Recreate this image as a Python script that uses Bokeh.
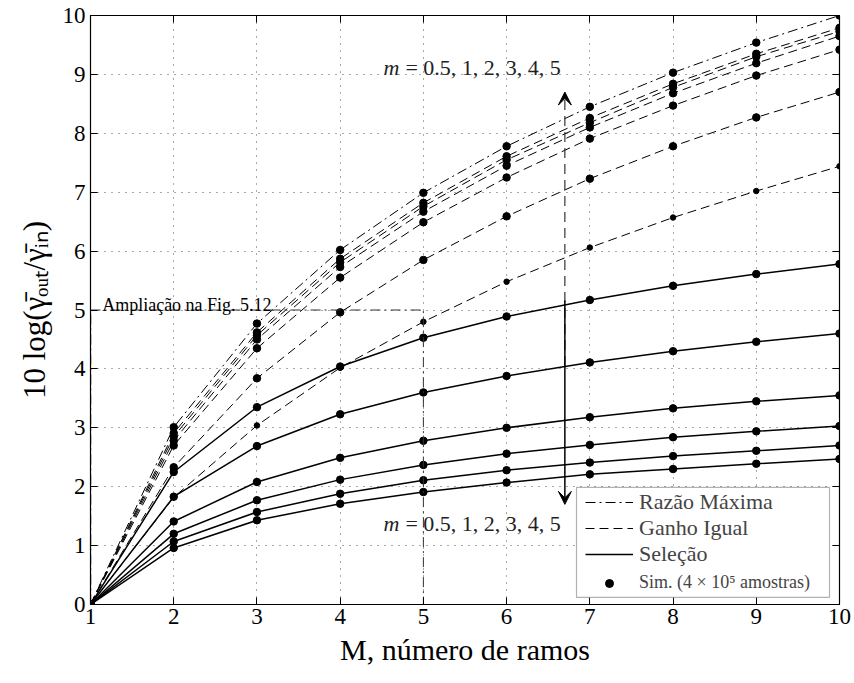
from bokeh.plotting import figure
from bokeh.models import (Range1d, LinearAxis, FixedTicker, Legend, LegendItem,
                          BoxAnnotation, Arrow, VeeHead, Label)
from bokeh.embed import file_html
from bokeh.resources import INLINE

# ---------------- data ----------------
M = [1, 2, 3, 4, 5, 6, 7, 8, 9, 10]
m_values = ["0.5", "1", "2", "3", "4", "5"]

# Maximal ratio combining (same for every m)
mrc = [0.0, 3.01, 4.77, 6.02, 6.99, 7.78, 8.45, 9.03, 9.54, 10.0]

# Equal gain combining, one list per m
egc_m05 = [0.0, 1.82, 3.04, 4.02, 4.80, 5.48, 6.06, 6.57, 7.02, 7.44]
egc_m1 = [0.0, 2.33, 3.84, 4.96, 5.85, 6.59, 7.23, 7.78, 8.27, 8.70]
egc_m2 = [0.0, 2.70, 4.35, 5.55, 6.49, 7.25, 7.91, 8.47, 8.98, 9.42]
egc_m3 = [0.0, 2.78, 4.50, 5.73, 6.67, 7.45, 8.10, 8.68, 9.19, 9.65]
egc_m4 = [0.0, 2.85, 4.57, 5.81, 6.76, 7.55, 8.18, 8.78, 9.30, 9.73]
egc_m5 = [0.0, 2.91, 4.62, 5.87, 6.82, 7.61, 8.26, 8.84, 9.35, 9.79]

# Selection combining, one list per m
sc_m05 = [0.0, 2.25, 3.35, 4.04, 4.53, 4.89, 5.17, 5.41, 5.61, 5.78]
sc_m1 = [0.0, 1.83, 2.69, 3.23, 3.60, 3.88, 4.11, 4.30, 4.46, 4.60]
sc_m2 = [0.0, 1.41, 2.08, 2.49, 2.78, 3.00, 3.18, 3.33, 3.45, 3.55]
sc_m3 = [0.0, 1.20, 1.77, 2.12, 2.37, 2.56, 2.71, 2.84, 2.94, 3.03]
sc_m4 = [0.0, 1.07, 1.57, 1.88, 2.11, 2.28, 2.41, 2.52, 2.61, 2.70]
sc_m5 = [0.0, 0.96, 1.43, 1.71, 1.91, 2.07, 2.21, 2.30, 2.39, 2.47]

egc = [egc_m05, egc_m1, egc_m2, egc_m3, egc_m4, egc_m5]
sc = [sc_m05, sc_m1, sc_m2, sc_m3, sc_m4, sc_m5]

x_ticks = [1, 2, 3, 4, 5, 6, 7, 8, 9, 10]
y_ticks = [0, 1, 2, 3, 4, 5, 6, 7, 8, 9, 10]

# zoom box ("Ampliação na Fig. 5.12")
zoom_x = [1, 5]
zoom_y = [0, 5]

# arrows (x, y_start, y_end)
arrow_x = 6.7
arrow_up_y = [4.05, 8.70]
arrow_down_y = [5.16, 1.70]

SERIF = "Liberation Serif"

# ---------------- figure ----------------
p = figure(width=854, height=683, x_range=Range1d(1, 10), y_range=Range1d(0, 10),
           output_backend="svg", toolbar_location=None,
           min_border_left=90, min_border_right=15, min_border_top=15, min_border_bottom=79)
p.background_fill_color = "white"
p.border_fill_color = "white"
p.outline_line_color = "black"
p.outline_line_width = 1.2

for ax in (p.xaxis[0], p.yaxis[0]):
    ax.major_label_text_font = SERIF
    ax.major_label_text_font_size = "23px"
    ax.major_label_text_color = "black"
    ax.major_tick_in = 7
    ax.major_tick_out = 0
    ax.minor_tick_line_color = None
    ax.axis_line_color = "black"
    ax.major_tick_line_color = "black"
    ax.axis_label_text_font = SERIF
    ax.axis_label_text_font_style = "normal"
    ax.axis_label_text_color = "black"

p.xaxis.ticker = FixedTicker(ticks=x_ticks)
p.yaxis.ticker = FixedTicker(ticks=y_ticks)
p.xaxis.major_label_standoff = 4
p.yaxis.major_label_standoff = 5
p.xaxis.axis_label = "M, número de ramos"
p.xaxis.axis_label_text_font_size = "30px"
p.xaxis.axis_label_standoff = 6
p.yaxis.axis_label = "10 log(γ̄ₒᵤₜ/γ̄ᵢₙ)"
p.yaxis.axis_label_text_font_size = "31px"
p.yaxis.axis_label_standoff = 8

# mirrored axes (MATLAB box with inward ticks), no labels drawn
top_ax = LinearAxis(ticker=FixedTicker(ticks=x_ticks), major_label_text_font_size="1px",
                    major_label_text_color=None, major_label_standoff=0,
                    major_tick_in=7, major_tick_out=0, minor_tick_line_color=None)
right_ax = LinearAxis(ticker=FixedTicker(ticks=y_ticks), major_label_text_font_size="1px",
                      major_label_text_color=None, major_label_standoff=0,
                      major_tick_in=7, major_tick_out=0, minor_tick_line_color=None)
p.add_layout(top_ax, "above")
p.add_layout(right_ax, "right")

p.xgrid.ticker = FixedTicker(ticks=x_ticks)
p.ygrid.ticker = FixedTicker(ticks=y_ticks)
for g in (p.xgrid[0], p.ygrid[0]):
    g.grid_line_color = "#555555"
    g.grid_line_dash = "1 6"
    g.grid_line_width = 1

# ---------------- curves ----------------
DASHDOT = "10 4 2 4"
DASHED = "9 5"

mrc_r = p.line(M, mrc, line_color="black", line_width=1, line_dash=DASHDOT)
egc_r = None
for vals in egc:
    r = p.line(M, vals, line_color="black", line_width=1, line_dash=DASHED)
    if egc_r is None:
        egc_r = r
sc_r = None
for vals in sc:
    r = p.line(M, vals, line_color="black", line_width=1.5)
    if sc_r is None:
        sc_r = r

# simulation points
sim_r = p.scatter(M, mrc, size=7.5, color="black")
for i, vals in enumerate(egc):
    p.scatter(M, vals, size=5.5 if i == 0 else 7.5, color="black")
for vals in sc:
    p.scatter(M, vals, size=7.5, color="black")

# zoom box lines
p.line([zoom_x[0], zoom_x[1], zoom_x[1]], [zoom_y[1], zoom_y[1], zoom_y[0]],
       line_color="#333333", line_width=1, line_dash=DASHDOT)
p.line([zoom_x[0], zoom_x[0]], [zoom_y[0], zoom_y[1]],
       line_color="#333333", line_width=1.5, line_dash=DASHDOT)

p.add_layout(Label(x=1.14, y=5.09, text="Ampliação na Fig. 5.12", text_font=SERIF,
                   text_font_size="18px", text_color="black", text_baseline="alphabetic"))

# arrows
p.add_layout(Arrow(end=VeeHead(size=13, fill_color="black", line_color="black"),
                   x_start=arrow_x, y_start=arrow_up_y[0], x_end=arrow_x, y_end=arrow_up_y[1],
                   line_color="#333333", line_width=1.2, line_dash="10 6"))
p.add_layout(Arrow(end=VeeHead(size=13, fill_color="black", line_color="black"),
                   x_start=arrow_x, y_start=arrow_down_y[0], x_end=arrow_x, y_end=arrow_down_y[1],
                   line_color="black", line_width=1.5))

m_text = "=  " + ", ".join(m_values)
for (lx, ly) in [(4.52, 9.12), (4.52, 1.38)]:
    p.add_layout(Label(x=lx, y=ly, text="m", text_font=SERIF, text_font_style="italic",
                       text_font_size="22px", text_color="#222222", text_baseline="middle"))
    p.add_layout(Label(x=lx, y=ly, x_offset=22, text=m_text, text_font=SERIF,
                       text_font_size="22px", text_color="#222222", text_baseline="middle"))

# ---------------- legend ----------------
p.add_layout(BoxAnnotation(left=6.84, right=9.88, bottom=0.12, top=1.99,
                           fill_color="white", fill_alpha=1.0,
                           line_color="black", line_width=1.2))

leg1 = Legend(items=[LegendItem(label="Razão Máxima", renderers=[mrc_r]),
                     LegendItem(label="Ganho Igual", renderers=[egc_r]),
                     LegendItem(label="Seleção", renderers=[sc_r])],
              location=(492, 34), label_text_font=SERIF, label_text_font_size="22px",
              glyph_width=48, label_standoff=6, padding=3, spacing=0, margin=0,
              border_line_alpha=0, background_fill_alpha=0)
leg2 = Legend(items=[LegendItem(label="Sim. (4 × 10⁵ amostras)", renderers=[sim_r])],
              location=(492, 8), label_text_font=SERIF, label_text_font_size="18px",
              glyph_width=48, label_standoff=6, padding=3, spacing=0, margin=0,
              border_line_alpha=0, background_fill_alpha=0)
p.add_layout(leg1)
p.add_layout(leg2)

open("out.html", "w").write(file_html(p, INLINE))
